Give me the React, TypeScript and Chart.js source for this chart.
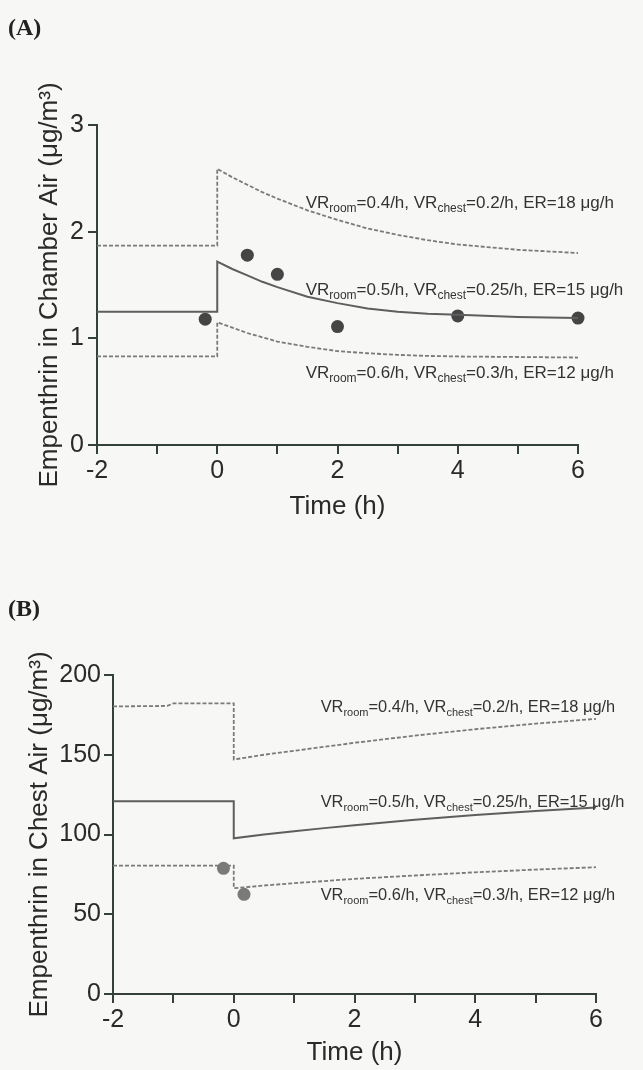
import React, { useEffect, useRef } from 'react';
import { Chart, registerables } from 'chart.js';

Chart.register(...registerables);

// ---------- Panel A: chamber air ----------
const chamberTime = [-2, 0, 0, 0.25, 0.5, 0.75, 1, 1.5, 2, 2.5, 3, 3.5, 4, 5, 6];
const chamberHigh = [1.87, 1.87, 2.59, 2.51, 2.44, 2.37, 2.31, 2.2, 2.11, 2.03, 1.97, 1.92, 1.88, 1.83, 1.8];
const chamberMid = [1.25, 1.25, 1.72, 1.65, 1.59, 1.53, 1.48, 1.39, 1.33, 1.28, 1.25, 1.23, 1.22, 1.2, 1.19];
const chamberLow = [0.83, 0.83, 1.15, 1.1, 1.05, 1.01, 0.97, 0.92, 0.88, 0.86, 0.845, 0.835, 0.83, 0.825, 0.82];
const chamberObsTime = [-0.2, 0.5, 1, 2, 4, 6];
const chamberObs = [1.18, 1.78, 1.6, 1.11, 1.21, 1.19];

// ---------- Panel B: chest air ----------
const chestTime = [-2, -1.1, -1, 0, 0, 0.5, 1, 1.5, 2, 3, 4, 5, 6];
const chestHigh = [180.3, 180.6, 182.2, 182.2, 147, 150, 152.5, 155, 157.5, 162, 166, 169.5, 172.5];
const chestMid = [120.8, 120.8, 120.8, 120.8, 97.6, 100, 102, 104, 105.8, 109.2, 112.2, 114.8, 117];
const chestLow = [80.5, 80.5, 80.5, 80.5, 66.3, 68, 69.5, 70.8, 72.2, 74.3, 76.3, 78, 79.5];
const chestObsTime = [-0.17, 0.17];
const chestObs = [78.8, 62.5];

// ---------- scenario labels ----------
const scenarioRoom = ['0.4/h', '0.5/h', '0.6/h'];
const scenarioChest = ['0.2/h', '0.25/h', '0.3/h'];
const scenarioER = ['18', '15', '12'];

// anchor (data units) of each scenario label
const chamberLabelAt = [[1.47, 2.22], [1.47, 1.41], [1.47, 0.63]];
const chestLabelAt = [[1.44, 176.8], [1.44, 117.2], [1.44, 59]];

const FONT = 'Liberation Sans, Arial, sans-serif';
const AXIS = '#34403c';
const TEXT = '#2a2a2a';

const zip = (xs: number[], ys: number[]) => xs.map((x, i) => ({ x, y: ys[i] }));

const annotPlugin = {
  id: 'annot',
  afterDatasetsDraw(chart: any, _args: any, opts: any) {
    const { ctx, scales } = chart;
    const main = opts.size || 17;
    const sub = Math.round(main * 0.7);
    ctx.save();
    ctx.fillStyle = '#333';
    ctx.textBaseline = 'alphabetic';
    ctx.textAlign = 'left';
    (opts.labels || []).forEach((pos: number[], i: number) => {
      let x = scales.x.getPixelForValue(pos[0]);
      const y = scales.y.getPixelForValue(pos[1]);
      const parts: [string, boolean][] = [
        ['VR', false],
        ['room', true],
        ['=' + scenarioRoom[i] + ', VR', false],
        ['chest', true],
        ['=' + scenarioChest[i] + ', ER=' + scenarioER[i] + ' \u03bcg/h', false],
      ];
      for (const [t, isSub] of parts) {
        ctx.font = (isSub ? sub : main) + 'px ' + FONT;
        ctx.fillText(t, x, isSub ? y + 4 : y);
        x += ctx.measureText(t).width;
      }
    });
    ctx.restore();
  },
};

type PanelCfg = {
  width: number;
  height: number;
  time: number[];
  high: number[];
  mid: number[];
  low: number[];
  obsTime: number[];
  obs: number[];
  obsColor: string;
  yMax: number;
  yStep: number;
  yTitle: string;
  labels: number[][];
  labelSize: number;
  padTop: number;
  padRight: number;
  yWidth: number;
  xHeight: number;
  yTitlePad: number;
  xTitlePad: number;
  yTickPad: number;
};

function Panel({ cfg }: { cfg: PanelCfg }) {
  const ref = useRef<HTMLCanvasElement | null>(null);
  useEffect(() => {
    if (!ref.current) return;
    const dashed = {
      borderColor: '#7a7a7a',
      borderWidth: 1.8,
      borderDash: [4, 2],
      pointRadius: 0,
      tension: 0,
      fill: false,
    };
    const chart = new Chart(ref.current, {
      type: 'line',
      data: {
        datasets: [
          { ...dashed, data: zip(cfg.time, cfg.high) } as any,
          {
            data: zip(cfg.time, cfg.mid),
            borderColor: '#5e5e5e',
            borderWidth: 2,
            pointRadius: 0,
            tension: 0,
            fill: false,
          },
          { ...dashed, data: zip(cfg.time, cfg.low) } as any,
          {
            data: zip(cfg.obsTime, cfg.obs),
            showLine: false,
            pointRadius: 6.5,
            pointBackgroundColor: cfg.obsColor,
            pointBorderWidth: 0,
            borderColor: cfg.obsColor,
            clip: false,
          } as any,
        ],
      },
      options: {
        animation: false,
        responsive: false,
        devicePixelRatio: 1,
        events: [],
        layout: { padding: { left: 0, right: cfg.padRight, top: cfg.padTop, bottom: 0 } },
        plugins: {
          legend: { display: false },
          tooltip: { enabled: false },
          annot: { labels: cfg.labels, size: cfg.labelSize },
        } as any,
        scales: {
          x: {
            type: 'linear',
            min: -2,
            max: 6,
            afterFit: (s: any) => {
              s.height = cfg.xHeight;
            },
            ticks: {
              stepSize: 1,
              autoSkip: false,
              maxRotation: 0,
              padding: 2,
              color: TEXT,
              font: { family: FONT, size: 25 },
              callback: (v: any) => (Number(v) % 2 === 0 ? String(v) : ''),
            },
            grid: {
              display: true,
              drawOnChartArea: false,
              drawTicks: true,
              tickLength: 9,
              color: AXIS,
              lineWidth: 2,
            },
            border: { display: true, color: AXIS, width: 2 },
            title: {
              display: true,
              text: 'Time (h)',
              color: TEXT,
              font: { family: FONT, size: 26 },
              padding: { top: 0, bottom: cfg.xTitlePad },
            },
          },
          y: {
            type: 'linear',
            min: 0,
            max: cfg.yMax,
            afterFit: (s: any) => {
              s.width = cfg.yWidth;
            },
            ticks: {
              stepSize: cfg.yStep,
              padding: cfg.yTickPad,
              color: TEXT,
              font: { family: FONT, size: 25 },
            },
            grid: {
              display: true,
              drawOnChartArea: false,
              drawTicks: true,
              tickLength: 9,
              color: AXIS,
              lineWidth: 2,
            },
            border: { display: true, color: AXIS, width: 2 },
            title: {
              display: true,
              text: cfg.yTitle,
              color: TEXT,
              font: { family: FONT, size: 26 },
              padding: { top: cfg.yTitlePad, bottom: 0 },
            },
          },
        },
      },
      plugins: [annotPlugin],
    });
    return () => chart.destroy();
  }, [cfg]);
  return (
    <canvas
      ref={ref}
      width={cfg.width}
      height={cfg.height}
      style={{ display: 'block', width: cfg.width, height: cfg.height }}
    />
  );
}

const panelA: PanelCfg = {
  width: 643,
  height: 540,
  time: chamberTime,
  high: chamberHigh,
  mid: chamberMid,
  low: chamberLow,
  obsTime: chamberObsTime,
  obs: chamberObs,
  obsColor: '#454545',
  yMax: 3,
  yStep: 1,
  yTitle: 'Empenthrin in Chamber Air (\u03bcg/m\u00b3)',
  labels: chamberLabelAt,
  labelSize: 17,
  padTop: 125,
  padRight: 65,
  yWidth: 97,
  xHeight: 95,
  yTitlePad: 34,
  xTitlePad: 18,
  yTickPad: 4,
};

const panelB: PanelCfg = {
  width: 643,
  height: 530,
  time: chestTime,
  high: chestHigh,
  mid: chestMid,
  low: chestLow,
  obsTime: chestObsTime,
  obs: chestObs,
  obsColor: '#7a7a7a',
  yMax: 200,
  yStep: 50,
  yTitle: 'Empenthrin in Chest Air (\u03bcg/m\u00b3)',
  labels: chestLabelAt,
  labelSize: 16.4,
  padTop: 135,
  padRight: 47,
  yWidth: 113,
  xHeight: 76,
  yTitlePad: 24,
  xTitlePad: 2,
  yTickPad: 3,
};

export default function App() {
  useEffect(() => {
    document.body.style.margin = '0';
  }, []);
  const panelLabel: React.CSSProperties = {
    position: 'absolute',
    left: 8,
    fontFamily: 'Liberation Serif, Times New Roman, serif',
    fontWeight: 'bold',
    fontSize: 24,
    lineHeight: '26px',
    color: '#222',
  };
  return (
    <div style={{ position: 'relative', width: 643, height: 1070, background: '#f7f7f5', overflow: 'hidden' }}>
      <div style={{ position: 'absolute', left: 0, top: 0 }}>
        <Panel cfg={panelA} />
      </div>
      <div style={{ position: 'absolute', left: 0, top: 540 }}>
        <Panel cfg={panelB} />
      </div>
      <div style={{ ...panelLabel, top: 14 }}>(A)</div>
      <div style={{ ...panelLabel, top: 595 }}>(B)</div>
    </div>
  );
}
